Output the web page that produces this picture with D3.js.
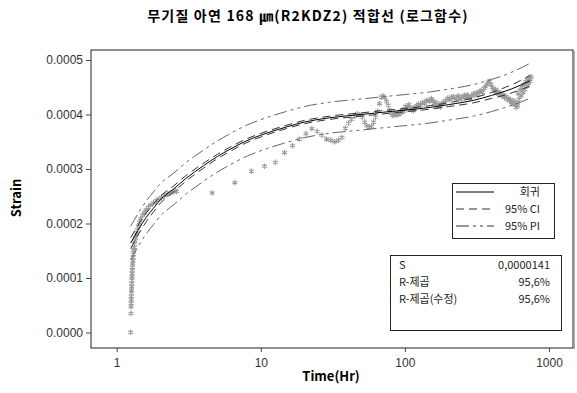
<!DOCTYPE html>
<html>
<head>
<meta charset="utf-8">
<script src="https://cdn.jsdelivr.net/npm/d3@7"></script>
<style>
  body { margin: 0; background: #fff; }
  text { font-family: "Liberation Sans", Arial, sans-serif; }
  .bold { font-family: "Noto Sans CJK KR", "Noto Sans", sans-serif; font-weight: bold; }
  .kr { font-family: "Noto Sans CJK KR", "Liberation Sans", sans-serif; }
</style>
</head>
<body>
<div id="chart"></div>
<script>
// observed strain, [time (hr), strain]
const strainEarly = [
  [1.25, 0.0000005], [1.255, 0.0000352], [1.258, 0.000047], [1.26, 0.000054], [1.262, 0.000060],
  [1.264, 0.000066], [1.266, 0.000072], [1.268, 0.000078], [1.27, 0.000084], [1.272, 0.000090],
  [1.274, 0.000096], [1.277, 0.000102], [1.28, 0.000108], [1.283, 0.000114], [1.287, 0.000120],
  [1.29, 0.000126], [1.295, 0.000132], [1.30, 0.000138], [1.305, 0.000144], [1.31, 0.000150],
  [1.32, 0.000156], [1.33, 0.000162], [1.34, 0.000168], [1.35, 0.000174], [1.37, 0.000181],
  [1.39, 0.000188], [1.41, 0.000195], [1.44, 0.000202], [1.47, 0.000209], [1.51, 0.000215],
  [1.55, 0.000220], [1.60, 0.000225], [1.66, 0.000230], [1.72, 0.000234], [1.80, 0.000238],
  [1.88, 0.000242], [1.96, 0.000245], [2.05, 0.000248], [2.15, 0.000251], [2.25, 0.000254],
  [2.35, 0.000256], [2.45, 0.000258], [2.55, 0.000260], [2.6, 0.000259]
];

const strainSparse = [
  [4.6, 0.000256], [6.6, 0.000275], [8.6, 0.000296], [10.6, 0.000305], [12.6, 0.000312]
];

const strainLate = [
  [14.6, 0.000330], [16.6, 0.000343], [18.6, 0.000355], [20.6, 0.000365], [22.6, 0.000374],
  [24.6, 0.000369], [26.6, 0.000362], [28.6, 0.000355], [30.6, 0.000353], [32.6, 0.000350],
  [34.6, 0.000353], [36.6, 0.000358], [38.6, 0.000375], [40.6, 0.000384], [42.6, 0.000391],
  [44.6, 0.000397], [46.6, 0.000401], [48.6, 0.000400], [50.6, 0.000395], [52.6, 0.000386],
  [54.6, 0.000379], [56.6, 0.000377], [58.6, 0.000378], [60.6, 0.000386], [62.6, 0.000395],
  [64.6, 0.000406], [66.6, 0.000420], [68.6, 0.000432], [70.6, 0.000434], [72.6, 0.000431],
  [74.6, 0.000424], [76.6, 0.000417], [78.6, 0.000408], [80.6, 0.000402], [82.6, 0.000398],
  [84.6, 0.000401], [86.6, 0.000399], [88.6, 0.000403], [90.6, 0.000400], [92.6, 0.000405],
  [94.6, 0.000403], [96.6, 0.000408], [98.6, 0.000406], [100.6, 0.000415], [102.6, 0.000411],
  [104.6, 0.000414], [106.6, 0.000418], [108.6, 0.000411], [110.6, 0.000409], [112.6, 0.000412],
  [114.6, 0.000407], [116.6, 0.000410], [118.6, 0.000413], [120.6, 0.000416], [124.6, 0.000419],
  [128.6, 0.000417], [132.6, 0.000422], [136.6, 0.000420], [140.6, 0.000425], [144.6, 0.000426],
  [148.6, 0.000424], [152.6, 0.000429], [156.6, 0.000425], [160.6, 0.000420], [164.6, 0.000422],
  [168.6, 0.000415], [172.6, 0.000418], [176.6, 0.000414], [180.6, 0.000420], [186.6, 0.000423],
  [192.6, 0.000426], [198.6, 0.000430], [204.6, 0.000427], [210.6, 0.000432], [216.6, 0.000433],
  [222.6, 0.000429], [228.6, 0.000430], [234.6, 0.000434], [240.6, 0.000430], [246.6, 0.000428],
  [252.6, 0.000433], [258.6, 0.000435], [264.6, 0.000431], [270.6, 0.000436], [276.6, 0.000433],
  [282.6, 0.000430], [290.6, 0.000434], [298.6, 0.000438], [306.6, 0.000435], [314.6, 0.000440],
  [322.6, 0.000437], [330.6, 0.000442], [338.6, 0.000444], [346.6, 0.000441], [354.6, 0.000448],
  [362.6, 0.000451], [370.6, 0.000455], [378.6, 0.000459], [386.6, 0.000461], [394.6, 0.000455],
  [402.6, 0.000450], [410.6, 0.000447], [418.6, 0.000443], [426.6, 0.000446], [434.6, 0.000440],
  [442.6, 0.000442], [450.6, 0.000437], [460.6, 0.000439], [470.6, 0.000434], [480.6, 0.000436],
  [490.6, 0.000431], [500.6, 0.000433], [510.6, 0.000428], [520.6, 0.000430], [530.6, 0.000425],
  [540.6, 0.000427], [550.6, 0.000422], [560.6, 0.000420], [570.6, 0.000425], [580.6, 0.000418],
  [590.6, 0.000413], [600.6, 0.000422], [605.6, 0.000416], [610.6, 0.000438], [620.6, 0.000428],
  [630.6, 0.000445], [640.6, 0.000434], [650.6, 0.000450], [660.6, 0.000440], [670.6, 0.000455],
  [680.6, 0.000446], [690.6, 0.000460], [700.6, 0.000452], [710.6, 0.000464], [720.6, 0.000457],
  [730.6, 0.000467], [740.6, 0.000461], [750.6, 0.000469]
];

// fitted line with confidence / prediction bands (x1e-6)
const fitTime = [1.25, 1.4, 1.6, 1.8, 2, 2.5, 3, 4, 5, 6, 8, 10, 15, 20, 30, 50, 70, 100, 150, 200, 300, 400, 500, 600, 740];
const fitStrain = [164, 187, 211, 228, 243, 264, 282, 306, 323, 335, 352, 362, 377, 386, 394, 400, 404, 408, 413, 418, 426, 435, 443, 451, 462];
const ciUpper = [174, 196, 219, 235, 249.5, 269.5, 287, 310.5, 327, 338.8, 355.5, 365.3, 380, 389, 397, 403, 407, 411, 416.2, 421.5, 430.5, 440.5, 450, 459, 472];
const ciLower = [154, 178, 203, 221, 236.5, 258.5, 277, 301.5, 319, 331.2, 348.5, 358.7, 374, 383, 391, 397, 401, 405, 409.8, 414.5, 421.5, 429.5, 436, 443, 452];
const piUpper = [195, 217.5, 241, 258, 272.5, 293, 311, 334.5, 351.5, 363.5, 380.5, 390.5, 405.5, 414.5, 422.5, 428.5, 432.5, 436.5, 441.5, 446.5, 455, 464.5, 473, 482, 494];
const piLower = [133, 156.5, 181, 198, 213.5, 235, 253, 277.5, 294.5, 306.5, 323.5, 333.5, 348.5, 357.5, 365.5, 371.5, 375.5, 379.5, 384.5, 389.5, 397, 405.5, 413, 420, 430];
const bandUnit = 1e-6;

const xTicks = [1, 10, 100, 1000];
const yTicks = [0, 0.0001, 0.0002, 0.0003, 0.0004, 0.0005];

const legendItems = ['회귀', '95% CI', '95% PI'];
const statLabels = ['S', 'R-제곱', 'R-제곱(수정)'];
const statValues = ['0,0000141', '95,6%', '95,6%'];

const titleText = '무기질 아연 168 ㎛(R2KDZ2) 적합선 (로그함수)';

const width = 577, height = 393;
const plot = { left: 91, right: 573, top: 50, bottom: 348 };

const svg = d3.select('#chart')
  .append('svg')
    .attr('width', width)
    .attr('height', height);

const x = d3.scaleLog()
  .domain([0.663, 1468])
  .range([plot.left, plot.right]);

const y = d3.scaleLinear()
  .domain([-0.0000284, 0.0005183])
  .range([plot.bottom, plot.top]);

// frame
svg.append('rect')
  .attr('x', plot.left)
  .attr('y', plot.top)
  .attr('width', plot.right - plot.left)
  .attr('height', plot.bottom - plot.top)
  .attr('fill', 'none')
  .attr('stroke', '#222')
  .attr('stroke-width', 1);

svg.append('line')
  .attr('x1', plot.right + 1.5).attr('x2', plot.right + 1.5)
  .attr('y1', plot.top + 1).attr('y2', plot.bottom + 1)
  .attr('stroke', '#aaa');

// axes
const yAxis = d3.axisLeft(y)
  .tickValues(yTicks)
  .tickSize(5)
  .tickPadding(3)
  .tickFormat(d3.format('.4f'));

const yAxisG = svg.append('g')
  .attr('transform', 'translate(' + plot.left + ',0)')
  .call(yAxis);

const xAxis = d3.axisBottom(x)
  .tickValues(xTicks)
  .tickSize(4)
  .tickPadding(6)
  .tickFormat(d3.format('d'));

const xAxisG = svg.append('g')
  .attr('transform', 'translate(0,' + plot.bottom + ')')
  .call(xAxis);

[yAxisG, xAxisG].forEach(g => {
  g.select('.domain').remove();
  g.selectAll('.tick line').attr('stroke', '#444');
  g.selectAll('.tick text')
    .attr('fill', '#333')
    .style('font-size', '12px')
    .style('font-family', '"Liberation Sans", Arial, sans-serif');
});

// observations
const allPoints = strainEarly.concat(strainSparse, strainLate);
const star = d3.symbol().type(d3.symbolAsterisk).size(22);

svg.append('g')
  .selectAll('path')
  .data(allPoints)
  .enter()
  .append('path')
    .attr('transform', d => 'translate(' + x(d[0]) + ',' + y(d[1]) + ')')
    .attr('d', star)
    .attr('fill', 'none')
    .attr('stroke', '#9a9a9a')
    .attr('stroke-width', 1.1);

// fit + bands
const bandLine = d3.line()
  .x((d, i) => x(fitTime[i]))
  .y(d => y(d * bandUnit))
  .curve(d3.curveMonotoneX);

const curves = [
  { values: piUpper, stroke: '#666', dash: '13,4,3,4,3,4' },
  { values: piLower, stroke: '#666', dash: '13,4,3,4,3,4' },
  { values: ciUpper, stroke: '#333', dash: '8,5' },
  { values: ciLower, stroke: '#333', dash: '8,5' },
  { values: fitStrain, stroke: '#000', dash: null }
];

svg.append('g')
  .selectAll('path')
  .data(curves)
  .enter()
  .append('path')
    .attr('d', d => bandLine(d.values))
    .attr('fill', 'none')
    .attr('stroke', d => d.stroke)
    .attr('stroke-width', 1)
    .attr('stroke-dasharray', d => d.dash);

// legend box
const legend = svg.append('g');
legend.append('rect')
  .attr('x', 452.5).attr('y', 183.5)
  .attr('width', 102).attr('height', 55)
  .attr('fill', '#fff').attr('stroke', '#222');

const legendDash = [null, '8,5', '13,4,3,4,3,4'];
legendItems.forEach((label, i) => {
  const ly = 192 + i * 17;
  legend.append('line')
    .attr('x1', 456).attr('x2', 494)
    .attr('y1', ly).attr('y2', ly)
    .attr('stroke', i === 0 ? '#000' : '#333')
    .attr('stroke-dasharray', legendDash[i]);
  legend.append('text')
    .attr('class', 'kr')
    .attr('x', 540).attr('y', ly + 4)
    .attr('text-anchor', 'end')
    .style('font-size', '11px')
    .attr('fill', '#222')
    .text(label);
});

// statistics box
const stats = svg.append('g');
stats.append('rect')
  .attr('x', 390.5).attr('y', 255.5)
  .attr('width', 171).attr('height', 75)
  .attr('fill', '#fff').attr('stroke', '#222');

statLabels.forEach((label, i) => {
  const sy = 269 + i * 17;
  stats.append('text')
    .attr('class', 'kr')
    .attr('x', 399).attr('y', sy)
    .style('font-size', '11px')
    .attr('fill', '#222')
    .text(label);
  stats.append('text')
    .attr('class', 'kr')
    .attr('x', 550).attr('y', sy)
    .attr('text-anchor', 'end')
    .style('font-size', '11px')
    .attr('fill', '#222')
    .text(statValues[i]);
});

// titles
svg.append('text')
  .attr('class', 'bold')
  .attr('x', 308).attr('y', 21)
  .attr('text-anchor', 'middle')
  .style('font-size', '14px')
  .style('letter-spacing', '1.2px')
  .text(titleText);

svg.append('text')
  .attr('class', 'bold')
  .attr('x', 331).attr('y', 381)
  .attr('text-anchor', 'middle')
  .style('font-size', '13px')
  .text('Time(Hr)');

svg.append('text')
  .attr('class', 'bold')
  .attr('transform', 'translate(21,198) rotate(-90)')
  .attr('text-anchor', 'middle')
  .style('font-size', '13px')
  .text('Strain');
</script>
</body>
</html>
